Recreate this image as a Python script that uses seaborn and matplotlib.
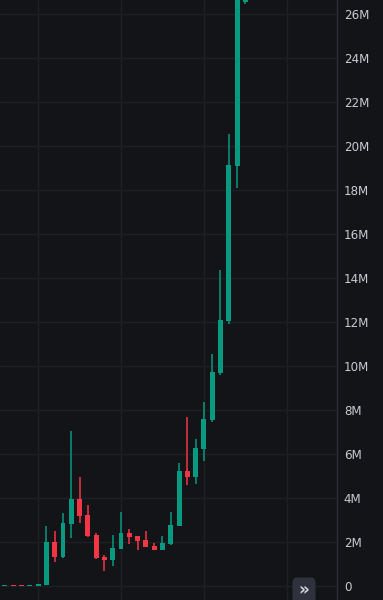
import numpy as np
import pandas as pd
import matplotlib
matplotlib.use("Agg")
import matplotlib.pyplot as plt
from matplotlib.patches import FancyBboxPatch
from matplotlib.ticker import FuncFormatter, FixedLocator
import seaborn as sns

# ---- data (values in millions) ----
opens  = [0.00, 0.01, 0.01, 0.00, 0.01, 0.06, 2.01, 1.33, 2.85, 3.97,
          3.24, 2.33, 1.33, 1.20, 1.70, 2.42, 2.29, 2.10, 1.83, 1.65,
          1.92, 2.74, 5.24, 4.97, 6.24, 7.56, 9.70, 12.06, 19.10, 26.58]
highs  = [0.01, 0.01, 0.01, 0.01, 0.12, 2.74, 2.51, 3.33, 7.06, 4.97,
          3.70, 2.42, 1.42, 2.33, 3.38, 2.60, 2.29, 2.51, 1.97, 2.29,
          3.38, 5.60, 7.70, 6.70, 8.38, 10.56, 14.39, 20.56, 27.50, 26.80]
lows   = [0.00, 0.00, 0.00, 0.00, 0.00, 0.05, 1.10, 1.28, 2.20, 2.88,
          2.24, 1.24, 0.70, 0.92, 1.68, 1.92, 1.65, 1.79, 1.65, 1.64,
          1.90, 2.72, 4.60, 4.65, 5.70, 7.47, 9.60, 11.93, 18.10, 26.45]
closes = [0.01, 0.00, 0.00, 0.01, 0.12, 2.01, 1.33, 2.88, 3.97, 3.20,
          2.29, 1.29, 1.20, 1.74, 2.42, 2.24, 2.06, 1.79, 1.65, 1.97,
          2.79, 5.24, 4.97, 6.29, 7.61, 9.74, 12.10, 19.15, 27.20, 26.60]
y_ticks = list(range(0, 27, 2))

df = pd.DataFrame({"open": opens, "high": highs, "low": lows, "close": closes})
df["idx"] = np.arange(len(df))
df["up"] = df["close"] >= df["open"]

BG = "#131418"
GRID = "#1d1f24"
GREEN = "#089981"
RED = "#f23645"
TXT = "#c9cbd1"

sns.set_theme(style="dark", rc={
    "axes.facecolor": BG, "figure.facecolor": BG,
    "axes.edgecolor": "#2a2e39", "grid.color": GRID,
})
plt.rcParams["font.family"] = ["DejaVu Sans"]

fig = plt.figure(figsize=(3.83, 6.0), dpi=100)
ax = fig.add_axes([0, 0, 336.5 / 383, 1])
ax.set_facecolor(BG)

px_per_m = 22.0
min_h = 1.5 / px_per_m

# grid
for yv in y_ticks:
    ax.axhline(yv, color=GRID, lw=1.0, zorder=0)
for xv in [4, 14, 24, 34]:
    ax.axvline(xv, color=GRID, lw=1.0, zorder=0)

colors = [GREEN if u else RED for u in df["up"]]
# wicks
ax.vlines(df["idx"], df["low"], df["high"], colors=colors, lw=1.1, zorder=2)
# bodies
bottoms = np.minimum(df["open"], df["close"])
heights = np.maximum(np.abs(df["close"] - df["open"]), min_h)
ax.bar(df["idx"], heights, bottom=bottoms, width=0.6, color=colors,
       linewidth=0, zorder=3)

ax.set_xlim(-0.6, 40.0)
ax.set_ylim(-(600 - 586.3) / px_per_m, 586.3 / px_per_m)
ax.yaxis.tick_right()
ax.yaxis.set_major_locator(FixedLocator(y_ticks))
ax.yaxis.set_major_formatter(FuncFormatter(lambda v, p: "0" if v == 0 else f"{v:.0f}M"))
ax.tick_params(axis="y", length=0, pad=5.3, labelsize=8.6, labelcolor=TXT)
ax.set_xticks([])
ax.grid(False)
for s in ["top", "left", "bottom"]:
    ax.spines[s].set_visible(False)
ax.spines["right"].set_color("#2a2e39")
ax.spines["right"].set_linewidth(1.0)

# scroll button
W, H = 383.0, 600.0
btn = FancyBboxPatch((292.5 / W, -4 / H), 23 / W, 26.5 / H,
                     boxstyle="round,pad=0,rounding_size=0.01",
                     transform=fig.transFigure, facecolor="#2f323c",
                     edgecolor="none", zorder=5)
fig.patches.append(btn)
fig.text(304 / W, (600 - 590.5) / H, "»", color="#d1d4dc", fontsize=12,
         fontweight="bold", ha="center", va="center", zorder=6)

fig.savefig("out.png", dpi=100, facecolor=BG)
